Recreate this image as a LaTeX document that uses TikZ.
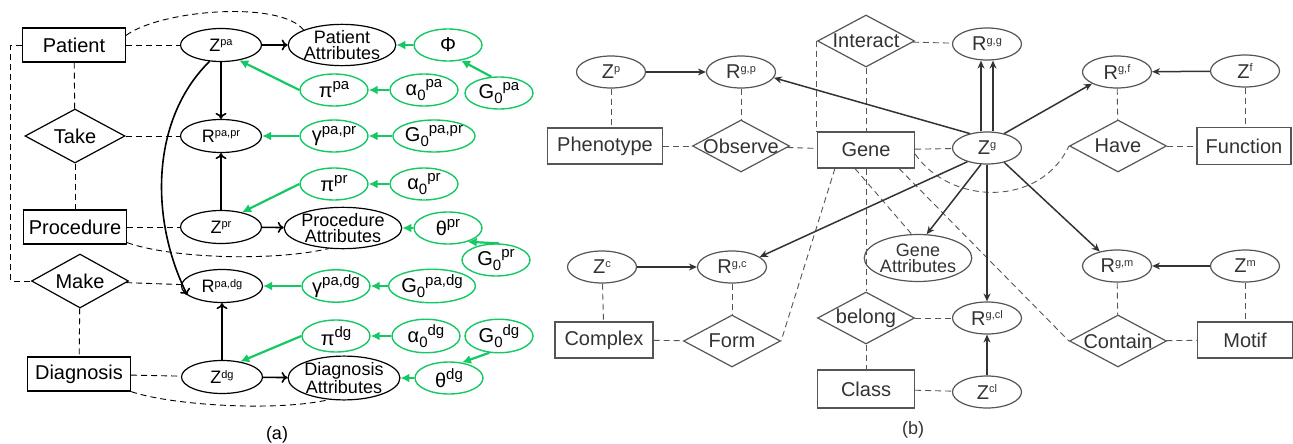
\documentclass[tikz,border=0pt]{standalone}
\usepackage{fontspec}
\setmainfont{Liberation Sans}
\usetikzlibrary{shapes.geometric,arrows.meta}

\definecolor{grn}{RGB}{20,200,100}
\definecolor{gry}{RGB}{85,85,85}
\newcommand\hi[1]{\raisebox{0.6ex}{\fontsize{11}{11}\selectfont#1}}
\newcommand\ghi[1]{\raisebox{0.75ex}{\fontsize{15}{15}\selectfont#1}}
\newcommand\lo[1]{\raisebox{-0.45ex}{\fontsize{15}{15}\selectfont#1}}
\newcommand\rtxt[1]{\makebox[0pt]{#1}}

\begin{document}
\begin{tikzpicture}[x=1pt, y=-1pt, font=\fontsize{20}{22}\selectfont,
  ent/.style={draw, rectangle, minimum width=103, minimum height=34, inner sep=0, line width=1.2},
  rel/.style={draw, diamond, minimum width=100, minimum height=54, inner sep=0, line width=1.2},
  var/.style={draw, ellipse, minimum width=81, minimum height=33, inner sep=0, line width=1.2, font=\fontsize{18}{20}\selectfont},
  att/.style={draw, ellipse, minimum width=96, minimum height=40, inner sep=0, line width=1.2, align=center, font=\fontsize{18}{16}\selectfont},
  hyp/.style={draw=grn, ellipse, minimum width=68, minimum height=32, inner sep=0, line width=1.4},
  lnk/.style={dashed, dash pattern=on 6pt off 4pt, line width=0.9},
  barr/.style={-{To[length=6pt,width=11pt]}, line width=1.6},
  garr/.style={grn, -{Latex[length=9pt,width=9pt]}, line width=2.2},
  gent/.style={ent, draw=gry, text=black!80, minimum width=97, minimum height=36},
  grel/.style={rel, draw=gry, text=black!80, minimum width=97, minimum height=52},
  gvar/.style={var, draw=gry, text=black!80, minimum width=69, minimum height=32, font=\fontsize{20}{22}\selectfont},
  glnk/.style={lnk, gry},
  rarr/.style={-{Stealth[length=8pt,width=7pt]}, line width=1.5, black!80}]

\useasboundingbox (0,0) rectangle (1293,444);

% (a)
\node[ent] (pat) at (74,45) {Patient};
\node[rel] (take) at (75,136) {\rtxt{Take}};
\node[ent] (proc) at (75,227) {Procedure};
\node[rel, minimum width=97] (make) at (80,281) {\rtxt{Make}};
\node[ent] (diag) at (79,374) {Diagnosis};

\node[var] (zpa) at (221,45) {Z\hi{pa}};
\node[var] (rpapr) at (221,136) {R\hi{pa,pr}};
\node[var] (zpr) at (221,227) {Z\hi{pr}};
\node[var] (rpadg) at (222,286) {R\hi{pa,dg}};
\node[var] (zdg) at (222,377) {Z\hi{dg}};

\node[att] (patatt) at (342,45) {Patient\\Attributes};
\node[att] (pratt) at (343,228) {Procedure\\Attributes};
\node[att] (dgatt) at (344,378) {Diagnosis\\Attributes};

\node[hyp] (phi) at (448,45) {Φ};
\node[hyp] (pipa) at (334,90) {π\ghi{pa}};
\node[hyp] (a0pa) at (424,90) {α\lo{0}\ghi{pa}};
\node[hyp] (g0pa) at (499,93) {G\lo{0}\ghi{pa}};
\node[hyp] (gpapr) at (334,136) {γ\ghi{pa,pr}};
\node[hyp, minimum width=78] (g0papr) at (434,136) {G\lo{0}\ghi{pa,pr}};
\node[hyp] (pipr) at (334,184) {π\ghi{pr}};
\node[hyp] (a0pr) at (424,184) {α\lo{0}\ghi{pr}};
\node[hyp] (thpr) at (448,228) {θ\ghi{pr}};
\node[hyp] (g0pr) at (496,260) {G\lo{0}\ghi{pr}};
\node[hyp] (gpadg) at (336,286) {γ\ghi{pa,dg}};
\node[hyp, minimum width=72] (g0padg) at (432,286) {G\lo{0}\ghi{pa,dg}};
\node[hyp] (pidg) at (336,336) {π\ghi{dg}};
\node[hyp] (a0dg) at (426,336) {α\lo{0}\ghi{dg}};
\node[hyp] (g0dg) at (499,336) {G\lo{0}\ghi{dg}};
\node[hyp] (thdg) at (449,378) {θ\ghi{dg}};

\node[font=\fontsize{18}{20}\selectfont] (la) at (277,435) {(a)};

\draw[lnk] (pat) -- (zpa);
\draw[lnk] (pat) -- (take);
\draw[lnk] (take) -- (proc);
\draw[lnk] (make) -- (diag);
\draw[lnk] (take) -- (rpapr);
\draw[lnk] (proc) -- (zpr);
\draw[lnk] (make) -- (rpadg);
\draw[lnk] (diag) -- (zdg);
\draw[lnk] (pat.west) -- ++(-11,0) |- (make.west);
\draw[lnk] ([yshift=-8pt]pat.north east) .. controls (160,10) and (280,0) .. (patatt.north west);
\draw[lnk] ([yshift=2pt]proc.south east) .. controls (170,258) and (270,262) .. (pratt.-125);
\draw[lnk] (diag.south east) .. controls (170,405) and (275,412) .. (dgatt.-125);

\draw[barr] (zpa) -- (patatt);
\draw[barr] (zpr) -- (pratt);
\draw[barr] (zdg) -- (dgatt);
\draw[barr] (zpa) -- (rpapr);
\draw[barr] (zpr) -- (rpapr);
\draw[barr] (zdg) -- (rpadg);
\draw[barr] (zpa.235) .. controls (150,120) and (150,220) .. (rpadg.195);

\draw[garr] (phi) -- (patatt);
\draw[garr] (g0pa.115) -- (phi.-50);
\draw[garr] (pipa.west) -- (zpa.-40);
\draw[garr] (a0pa) -- (pipa);
\draw[garr] (gpapr) -- (rpapr);
\draw[garr] (g0papr) -- (gpapr);
\draw[garr] (pipr.west) -- (zpr.35);
\draw[garr] (a0pr) -- (pipr);
\draw[garr] (thpr) -- (pratt);
\draw[garr] (g0pr.80) -- (thpr.-35);
\draw[garr] (gpadg) -- (rpadg);
\draw[garr] (g0padg) -- (gpadg);
\draw[garr] (pidg.west) -- (zdg.40);
\draw[garr] (a0dg) -- (pidg);
\draw[garr] (g0dg.240) -- (thdg.50);
\draw[garr] (thdg) -- (dgatt);

% (b)
\node[gvar] (zp) at (611,72) {Z\hi{p}};
\node[gvar] (rgp) at (741,72) {R\hi{g,p}};
\node[grel] (inter) at (866,41) {\rtxt{Interact}};
\node[gvar] (rgg) at (987,44) {R\hi{g,g}};
\node[gvar] (rgf) at (1117,72) {R\hi{g,f}};
\node[gvar] (zf) at (1245,71) {Z\hi{f}};

\node[gent, minimum width=115] (phen) at (605,146) {Phenotype};
\node[grel] (obs) at (741,146) {\rtxt{Observe}};
\node[gent] (gene) at (866,150) {Gene};
\node[gvar] (zg) at (987,148) {Z\hi{g}};
\node[grel] (have) at (1118,146) {\rtxt{Have}};
\node[gent, minimum width=94, minimum height=37] (func) at (1244,146) {Function};

\node[gvar] (zc) at (602,267) {Z\hi{c}};
\node[gvar] (rgc) at (732,267) {R\hi{g,c}};
\node[att, draw=gry, text=black!80, minimum width=87, minimum height=47] (gatt) at (918,258) {Gene\\Attributes};
\node[gvar] (rgm) at (1117,266) {R\hi{g,m}};
\node[gvar] (zm) at (1245,266) {Z\hi{m}};

\node[grel] (belong) at (866,318) {\rtxt{belong}};
\node[gvar] (rgcl) at (987,318) {R\hi{g,cl}};
\node[gent, minimum width=98] (cplx) at (604,340) {Complex};
\node[grel] (form) at (732,341) {\rtxt{Form}};
\node[grel] (cont) at (1118,341) {\rtxt{Contain}};
\node[gent, minimum width=95] (motif) at (1245,340) {Motif};
\node[gent, minimum height=38] (cls) at (866,389) {Class};
\node[gvar] (zcl) at (987,392) {Z\hi{cl}};

\node[font=\fontsize{18}{20}\selectfont, text=black!80] (lb) at (913,430) {(b)};

\draw[glnk] (zp.south) -- (zp.south |- phen.north);
\draw[glnk] (rgp) -- (obs);
\draw[glnk] (phen) -- (obs);
\draw[glnk] (obs) -- (gene);
\draw[glnk] (inter.west) -- (inter.west |- gene.north);
\draw[glnk] (inter) -- (gene);
\draw[glnk] (inter) -- (rgg);
\draw[glnk] (gene) -- (zg);
\draw[glnk] (rgf) -- (have);
\draw[glnk] (zf.south) -- (zf.south |- func.north);
\draw[glnk] (have) -- (func);
\draw[glnk] ([yshift=-4pt]gene.east) .. controls (950,205) and (1040,208) .. (have.west);
\draw[glnk] ([xshift=18pt]gene.south west) -- (form.east);
\draw[glnk] (gene) -- (belong);
\draw[glnk] ([xshift=-11pt]gene.south) -- (gatt.105);
\draw[glnk] ([xshift=-16pt]gene.south east) -- (cont.west);
\draw[glnk] (belong) -- (rgcl);
\draw[glnk] (belong) -- (cls);
\draw[glnk] (cls) -- (zcl);
\draw[glnk] (rgc) -- (form);
\draw[glnk] (cplx) -- (form);
\draw[glnk] (zc) -- (cplx);
\draw[glnk] (rgm) -- (cont);
\draw[glnk] (zm.south) -- (zm.south |- motif.north);
\draw[glnk] (cont) -- (motif);

\draw[rarr] (zp) -- (rgp);
\draw[rarr] (zf) -- (rgf);
\draw[rarr] (zc) -- (rgc);
\draw[rarr] (zm) -- (rgm);
\draw[rarr] (zcl) -- (rgcl);
\draw[rarr] (zg.140) -- (rgp.-10);
\draw[rarr] ([xshift=-6pt]zg.north) -- ([xshift=-6pt]rgg.south);
\draw[rarr] ([xshift=6pt]zg.north) -- ([xshift=6pt]rgg.south);
\draw[rarr] (zg.40) -- (rgf.-155);
\draw[rarr] (zg.215) -- (rgc.20);
\draw[rarr] (zg.250) -- (gatt.70);
\draw[rarr] (zg) -- (rgcl);
\draw[rarr] (zg.-40) -- (rgm.140);

\end{tikzpicture}
\end{document}
